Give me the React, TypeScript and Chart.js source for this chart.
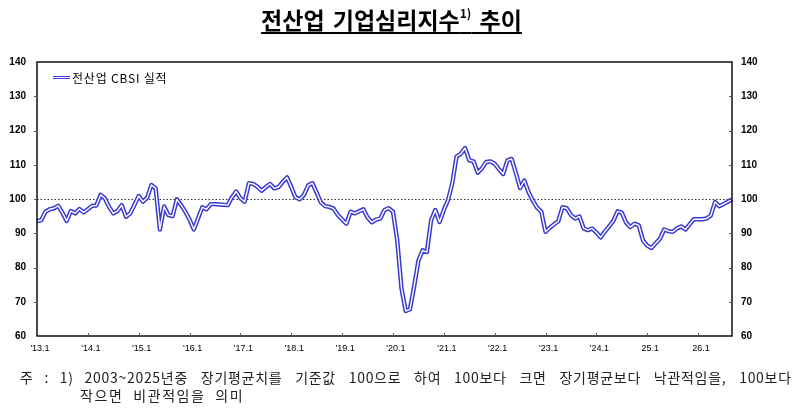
import { useEffect, useRef } from "react";
import { Chart, registerables, type Plugin } from "chart.js";

Chart.register(...registerables);

const LINE_BLUE = "#3a3ad2";

// 월별 카테고리: '13.1 ~ '26.9
const FIRST_YEAR = 2013;
const MONTH_COUNT = 165;
const MONTHS = Array.from({ length: MONTH_COUNT }, (_, i) => {
  const y = FIRST_YEAR + Math.floor(i / 12);
  return `${y}.${(i % 12) + 1}`;
});

// 연초(1월)에만 붙는 축 레이블
const YEAR_LABELS = [
  "'13.1", "'14.1", "'15.1", "'16.1", "'17.1", "'18.1", "'19.1",
  "'20.1", "'21.1", "'22.1", "'23.1", "'24.1", "25.1", "26.1",
];

const Y_MIN = 60;
const Y_MAX = 140;
const Y_STEP = 10;
const BASELINE = 100;

// 전산업 CBSI 실적
const cbsi2013 = [93.5, 93.8, 96.3, 97.0, 97.3, 98.0, 96.0, 93.6, 96.5, 95.8, 97.1, 96.1];
const cbsi2014 = [97.0, 98.0, 98.1, 101.2, 100.2, 97.7, 95.8, 96.5, 98.2, 94.8, 95.8, 98.3];
const cbsi2015 = [100.9, 99.2, 100.4, 104.1, 103.1, 91.1, 97.8, 95.3, 95.0, 99.9, 98.2, 96.3];
const cbsi2016 = [94.0, 91.1, 94.3, 97.6, 97.0, 98.5, 98.5, 98.4, 98.3, 98.2, 100.5, 102.2];
const cbsi2017 = [100.2, 99.2, 104.6, 104.4, 103.6, 102.4, 103.5, 104.4, 103.1, 103.5, 105.0, 106.3];
const cbsi2018 = [103.5, 100.5, 99.9, 101.2, 104.0, 104.6, 101.8, 99.0, 97.9, 97.7, 97.2, 95.3];
const cbsi2019 = [94.0, 92.8, 96.3, 95.8, 96.4, 97.0, 94.6, 93.2, 94.0, 94.3, 96.8, 97.3];
const cbsi2020 = [96.3, 88.0, 74.0, 67.3, 67.8, 74.5, 82.0, 85.0, 84.5, 93.8, 96.8, 93.3];
const cbsi2021 = [96.8, 99.7, 104.6, 112.4, 113.2, 114.9, 111.3, 111.0, 107.7, 109.0, 110.8, 111.0];
const cbsi2022 = [110.3, 108.7, 107.3, 111.3, 111.7, 107.6, 103.2, 105.4, 102.0, 99.5, 97.5, 96.3];
const cbsi2023 = [90.4, 91.6, 92.6, 93.5, 97.6, 97.3, 95.3, 94.3, 94.9, 91.4, 90.9, 91.4];
const cbsi2024 = [90.2, 88.8, 90.5, 92.0, 93.6, 96.4, 96.0, 93.1, 91.8, 92.8, 92.3, 87.9];
const cbsi2025 = [86.4, 85.7, 87.1, 88.4, 91.1, 90.6, 90.4, 91.4, 92.0, 91.1, 92.6, 94.1];
const cbsi2026 = [94.1, 94.1, 94.3, 95.2, 99.1, 97.9, 98.5, 99.2, 99.9];

const CBSI = [
  ...cbsi2013, ...cbsi2014, ...cbsi2015, ...cbsi2016, ...cbsi2017,
  ...cbsi2018, ...cbsi2019, ...cbsi2020, ...cbsi2021, ...cbsi2022,
  ...cbsi2023, ...cbsi2024, ...cbsi2025, ...cbsi2026,
];

const AXIS_FONT = { family: "'Liberation Sans', Arial, sans-serif", size: 10, weight: "bold" as const };
const X_FONT = { family: "'Liberation Sans Narrow', 'Liberation Sans', sans-serif", size: 9 };

// 테두리, 100 기준 점선, 안쪽 눈금
const framePlugin: Plugin<"line"> = {
  id: "frame",
  beforeDatasetsDraw(chart) {
    const { ctx, chartArea: a, scales } = chart;
    const py = Math.round(scales.y.getPixelForValue(BASELINE)) + 0.5;
    ctx.save();
    ctx.strokeStyle = "#333";
    ctx.lineWidth = 1.2;
    ctx.setLineDash([1.5, 2]);
    ctx.beginPath();
    ctx.moveTo(a.left, py);
    ctx.lineTo(a.right, py);
    ctx.stroke();
    ctx.restore();
  },
  afterDatasetsDraw(chart) {
    const { ctx, chartArea: a, scales } = chart;
    ctx.save();
    ctx.strokeStyle = "#000";
    ctx.lineWidth = 1.4;
    ctx.strokeRect(a.left, a.top, a.right - a.left, a.bottom - a.top);

    ctx.lineWidth = 1;
    ctx.strokeStyle = "#555";
    ctx.beginPath();
    for (let v = Y_MIN + Y_STEP; v < Y_MAX; v += Y_STEP) {
      const py = Math.round(scales.y.getPixelForValue(v)) + 0.5;
      ctx.moveTo(a.left - 3, py);
      ctx.lineTo(a.left, py);
      ctx.moveTo(a.right, py);
      ctx.lineTo(a.right - 3, py);
    }
    for (let i = 12; i < MONTH_COUNT; i += 12) {
      const px = Math.round(scales.x.getPixelForValue(i)) + 0.5;
      ctx.moveTo(px, a.bottom);
      ctx.lineTo(px, a.bottom - 3);
    }
    ctx.stroke();
    ctx.restore();
  },
};

function CbsiChart() {
  const canvasRef = useRef<HTMLCanvasElement>(null);

  useEffect(() => {
    if (!canvasRef.current) return;
    const chart = new Chart(canvasRef.current, {
      type: "line",
      data: {
        labels: MONTHS,
        datasets: [
          // 이중선: 흰 안쪽 선을 위에, 파란 바깥 선을 아래에 그림
          {
            label: "inner",
            data: CBSI,
            borderColor: "#ffffff",
            borderWidth: 1.4,
            borderJoinStyle: "round",
            pointRadius: 0,
            tension: 0,
            order: 0,
          },
          {
            label: "전산업 CBSI 실적",
            data: CBSI,
            borderColor: LINE_BLUE,
            borderWidth: 4.4,
            borderJoinStyle: "round",
            pointRadius: 0,
            tension: 0,
            order: 1,
          },
        ],
      },
      options: {
        responsive: false,
        animation: false,
        layout: { padding: { top: 62, left: 0, right: 0, bottom: 0 } },
        plugins: {
          legend: { display: false },
          tooltip: { enabled: false },
        },
        scales: {
          x: {
            type: "category",
            offset: false,
            grid: { display: false, drawTicks: false },
            border: { display: false },
            afterFit: (s) => {
              s.height = 74;
            },
            ticks: {
              autoSkip: false,
              maxRotation: 0,
              minRotation: 0,
              padding: 7,
              labelOffset: 3,
              color: "#000",
              font: X_FONT,
              callback: (_v, idx) => (idx % 12 === 0 ? YEAR_LABELS[idx / 12] : ""),
            },
          },
          y: {
            position: "left",
            min: Y_MIN,
            max: Y_MAX,
            grid: { display: false, drawTicks: false },
            border: { display: false },
            afterFit: (s) => {
              s.width = 37;
            },
            ticks: { stepSize: Y_STEP, padding: 11, color: "#000", font: AXIS_FONT },
          },
          y2: {
            position: "right",
            min: Y_MIN,
            max: Y_MAX,
            grid: { display: false, drawTicks: false },
            border: { display: false },
            afterFit: (s) => {
              s.width = 67;
            },
            ticks: { stepSize: Y_STEP, padding: 9, color: "#000", font: AXIS_FONT },
          },
        },
      },
      plugins: [framePlugin],
    });
    return () => chart.destroy();
  }, []);

  return <canvas ref={canvasRef} width={799} height={410} style={{ position: "absolute", left: 0, top: 0 }} />;
}

export default function App() {
  const kr = "'Noto Sans CJK KR', 'Noto Sans', sans-serif";
  return (
    <div style={{ position: "fixed", left: 0, top: 0, width: 799, height: 410, background: "#fff", overflow: "hidden" }}>
      <CbsiChart />
      <div
        style={{
          position: "absolute",
          left: -8,
          width: 799,
          top: 4,
          textAlign: "center",
          fontFamily: kr,
          fontWeight: 700,
          fontSize: 23,
          lineHeight: "30px",
          color: "#000",
          wordSpacing: 3,
        }}
      >
        <span style={{ textDecoration: "underline", textUnderlineOffset: 3 }}>
          전산업 기업심리지수<sup style={{ fontSize: 12, verticalAlign: "top", lineHeight: "18px" }}>1)</sup> 추이
        </span>
      </div>
      <div style={{ position: "absolute", left: 53, top: 76, display: "flex", alignItems: "center" }}>
        <div
          style={{
            width: 17,
            height: 1,
            borderTop: `1.5px solid ${LINE_BLUE}`,
            borderBottom: `1.5px solid ${LINE_BLUE}`,
            background: "#fff",
          }}
        />
      </div>
      <div
        style={{
          position: "absolute",
          left: 72,
          top: 70,
          fontFamily: kr,
          fontSize: 12,
          letterSpacing: 0.8,
          lineHeight: "15px",
          color: "#000",
        }}
      >
        전산업 CBSI 실적
      </div>
      <div
        style={{
          position: "absolute",
          left: 20,
          top: 368,
          width: 780,
          fontFamily: kr,
          fontSize: 14,
          lineHeight: "18px",
          color: "#222",
          whiteSpace: "nowrap",
        }}
      >
        <div style={{ letterSpacing: 0.7 }}>
          <span style={{ wordSpacing: 7 }}>주 : 1) </span>
          <span style={{ wordSpacing: 9 }}>
            2003~2025년중 장기평균치를 기준값 100으로 하여 100보다 크면 장기평균보다 낙관적임을, 100보다
          </span>
        </div>
        <div style={{ paddingLeft: 60, wordSpacing: 5, letterSpacing: 1.6 }}>작으면 비관적임을 의미</div>
      </div>
    </div>
  );
}
